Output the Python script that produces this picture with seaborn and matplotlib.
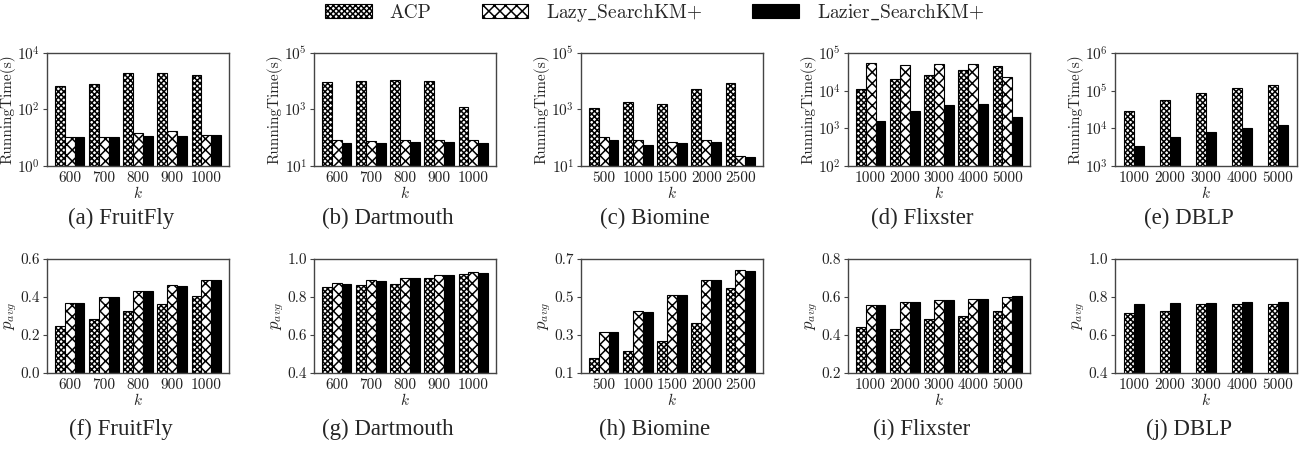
import numpy as np
import pandas as pd
import matplotlib
matplotlib.use("Agg")
import matplotlib.pyplot as plt
import seaborn as sns
from matplotlib.patches import Patch
from matplotlib.ticker import NullLocator, FormatStrFormatter

# ---------------- data ----------------
methods = ["ACP", "Lazy_SearchKM+", "Lazier_SearchKM+"]
legend_labels = ["ACP", r"Lazy$\_$SearchKM+", r"Lazier$\_$SearchKM+"]

k_fruitfly = [600, 700, 800, 900, 1000]
k_dartmouth = [600, 700, 800, 900, 1000]
k_biomine = [500, 1000, 1500, 2000, 2500]
k_flixster = [1000, 2000, 3000, 4000, 5000]
k_dblp = [1000, 2000, 3000, 4000, 5000]

# running time (s)
time_fruitfly_acp = [690, 830, 1950, 1900, 1700]
time_fruitfly_lazy = [10.4, 10.4, 14.5, 17, 12.3]
time_fruitfly_lazier = [10.4, 10.4, 11.6, 11.6, 12.6]

time_dartmouth_acp = [9600, 10400, 11300, 10200, 1180]
time_dartmouth_lazy = [81, 75, 81, 81, 81]
time_dartmouth_lazier = [66, 66, 71, 71, 66]

time_biomine_acp = [1120, 1870, 1550, 5400, 8400]
time_biomine_lazy = [105, 84, 69, 81, 22.6]
time_biomine_lazier = [84, 56, 64, 69, 21]

time_flixster_acp = [11200, 20300, 26500, 35000, 45000]
time_flixster_lazy = [54000, 48000, 50000, 50000, 22400]
time_flixster_lazier = [1580, 2900, 4100, 4450, 1980]

time_dblp_acp = [29000, 56000, 86000, 115000, 145000]
time_dblp_lazier = [3400, 5900, 8000, 10300, 12400]

# p_avg
p_fruitfly_acp = [0.245, 0.282, 0.326, 0.363, 0.404]
p_fruitfly_lazy = [0.367, 0.399, 0.431, 0.461, 0.489]
p_fruitfly_lazier = [0.367, 0.399, 0.431, 0.457, 0.489]

p_dartmouth_acp = [0.852, 0.862, 0.871, 0.899, 0.920]
p_dartmouth_lazy = [0.873, 0.889, 0.901, 0.915, 0.929]
p_dartmouth_lazier = [0.868, 0.883, 0.899, 0.915, 0.926]

p_biomine_acp = [0.178, 0.218, 0.268, 0.363, 0.546]
p_biomine_lazy = [0.314, 0.426, 0.513, 0.589, 0.640]
p_biomine_lazier = [0.314, 0.421, 0.509, 0.589, 0.636]

p_flixster_acp = [0.440, 0.431, 0.482, 0.498, 0.525]
p_flixster_lazy = [0.558, 0.572, 0.583, 0.591, 0.602]
p_flixster_lazier = [0.556, 0.572, 0.583, 0.591, 0.604]

p_dblp_acp = [0.718, 0.725, 0.762, 0.762, 0.762]
p_dblp_lazier = [0.762, 0.769, 0.769, 0.775, 0.775]

captions_top = ["(a) FruitFly", "(b) Dartmouth", "(c) Biomine", "(d) Flixster", "(e) DBLP"]
captions_bot = ["(f) FruitFly", "(g) Dartmouth", "(h) Biomine", "(i) Flixster", "(j) DBLP"]

top_ylims = [(1, 1e4), (10, 1e5), (10, 1e5), (100, 1e5), (1e3, 1e6)]
top_yticks = [[1, 1e2, 1e4], [10, 1e3, 1e5], [10, 1e3, 1e5],
              [1e2, 1e3, 1e4, 1e5], [1e3, 1e4, 1e5, 1e6]]
bot_ylims = [(0.0, 0.6), (0.4, 1.0), (0.1, 0.7), (0.2, 0.8), (0.4, 1.0)]
bot_yticks = [[0.0, 0.2, 0.4, 0.6], [0.4, 0.6, 0.8, 1.0], [0.1, 0.3, 0.5, 0.7],
              [0.2, 0.4, 0.6, 0.8], [0.4, 0.6, 0.8, 1.0]]


def make_df(ks, series):
    rows = []
    for m, vals in series.items():
        for k, v in zip(ks, vals):
            rows.append({"k": str(k), "method": m, "value": v})
    return pd.DataFrame(rows)


top_data = [
    make_df(k_fruitfly, {methods[0]: time_fruitfly_acp, methods[1]: time_fruitfly_lazy, methods[2]: time_fruitfly_lazier}),
    make_df(k_dartmouth, {methods[0]: time_dartmouth_acp, methods[1]: time_dartmouth_lazy, methods[2]: time_dartmouth_lazier}),
    make_df(k_biomine, {methods[0]: time_biomine_acp, methods[1]: time_biomine_lazy, methods[2]: time_biomine_lazier}),
    make_df(k_flixster, {methods[0]: time_flixster_acp, methods[1]: time_flixster_lazy, methods[2]: time_flixster_lazier}),
    make_df(k_dblp, {methods[0]: time_dblp_acp, methods[2]: time_dblp_lazier}),
]
bot_data = [
    make_df(k_fruitfly, {methods[0]: p_fruitfly_acp, methods[1]: p_fruitfly_lazy, methods[2]: p_fruitfly_lazier}),
    make_df(k_dartmouth, {methods[0]: p_dartmouth_acp, methods[1]: p_dartmouth_lazy, methods[2]: p_dartmouth_lazier}),
    make_df(k_biomine, {methods[0]: p_biomine_acp, methods[1]: p_biomine_lazy, methods[2]: p_biomine_lazier}),
    make_df(k_flixster, {methods[0]: p_flixster_acp, methods[1]: p_flixster_lazy, methods[2]: p_flixster_lazier}),
    make_df(k_dblp, {methods[0]: p_dblp_acp, methods[2]: p_dblp_lazier}),
]
k_lists = [k_fruitfly, k_dartmouth, k_biomine, k_flixster, k_dblp]

# ---------------- style ----------------
sns.set_style("ticks")
plt.rcParams.update({
    "font.family": "serif",
    "font.serif": ["cmr10", "DejaVu Serif"],
    "mathtext.fontset": "cm",
    "axes.formatter.use_mathtext": True,
    "axes.unicode_minus": False,
    "hatch.linewidth": 1.1,
    "hatch.color": "black",
})
SPINE = "#444444"
styles = {
    "ACP": dict(facecolor="white", hatch="xxxxxx"),
    "Lazy_SearchKM+": dict(facecolor="white", hatch="xxx"),
    "Lazier_SearchKM+": dict(facecolor="black", hatch=None),
}
palette = {"ACP": "white", "Lazy_SearchKM+": "white", "Lazier_SearchKM+": "black"}

W, H = 1309, 449
fig = plt.figure(figsize=(W / 100, H / 100), dpi=100)

lefts = [47, 314, 581, 848, 1115]
ax_w = 182
top_box = (53, 166)
bot_box = (259, 373)
cap_x = [121, 388, 655, 922, 1189]


def style_axes(ax):
    for s in ax.spines.values():
        s.set_color(SPINE)
        s.set_linewidth(1.0)
    ax.tick_params(axis="x", length=0, pad=4, labelsize=11, colors="#222222")
    ax.tick_params(axis="y", length=3, width=0.8, color=SPINE, pad=2, labelsize=11, labelcolor="#222222")


def draw(ax, df, i):
    hue_order = [m for m in methods if m in set(df["method"])]
    width = 0.29 * len(hue_order)
    sns.barplot(data=df, x="k", y="value", hue="method", hue_order=hue_order,
                order=[str(k) for k in k_lists[i]], palette=palette, width=width,
                edgecolor="black", linewidth=0.8, errorbar=None, legend=False,
                ax=ax, saturation=1)
    for cont, m in zip(ax.containers, hue_order):
        for p in cont.patches:
            p.set_facecolor(styles[m]["facecolor"])
            p.set_edgecolor("black")
            if styles[m]["hatch"]:
                p.set_hatch(styles[m]["hatch"])
    if len(hue_order) == 3:
        ax.set_xlim(-0.66, 4.66)
    else:
        ax.set_xlim(-0.53, 4.53)
    ax.set_xlabel("$k$", fontsize=11, labelpad=0)


for i in range(5):
    ax = fig.add_axes([lefts[i] / W, 1 - top_box[1] / H, ax_w / W, (top_box[1] - top_box[0]) / H])
    draw(ax, top_data[i], i)
    ax.set_yscale("log")
    ax.set_ylim(*top_ylims[i])
    ax.set_yticks(top_yticks[i])
    ax.yaxis.set_minor_locator(NullLocator())
    ax.set_ylabel("RunningTime(s)", fontsize=11, labelpad=1)
    style_axes(ax)
    fig.text(cap_x[i] / W, 1 - 218 / H, captions_top[i], ha="center", va="center",
             fontsize=16.5, family="Liberation Serif")

for i in range(5):
    ax = fig.add_axes([lefts[i] / W, 1 - bot_box[1] / H, ax_w / W, (bot_box[1] - bot_box[0]) / H])
    draw(ax, bot_data[i], i)
    ax.set_ylim(*bot_ylims[i])
    ax.set_yticks(bot_yticks[i])
    ax.yaxis.set_major_formatter(FormatStrFormatter("%.1f"))
    ax.set_ylabel("$p_{avg}$", fontsize=12, labelpad=1)
    style_axes(ax)
    fig.text(cap_x[i] / W, 1 - 429 / H, captions_bot[i], ha="center", va="center",
             fontsize=16.5, family="Liberation Serif")

handles = [Patch(facecolor=styles[m]["facecolor"], edgecolor="black", linewidth=0.8,
                 hatch=styles[m]["hatch"]) for m in methods]
fig.legend(handles, legend_labels, loc="center", bbox_to_anchor=(0.5, 1 - 13 / H),
           ncol=3, frameon=False, fontsize=14, handlelength=2.4, handleheight=0.75,
           handletextpad=0.9, columnspacing=2.6)

fig.savefig("out.png", dpi=100)
